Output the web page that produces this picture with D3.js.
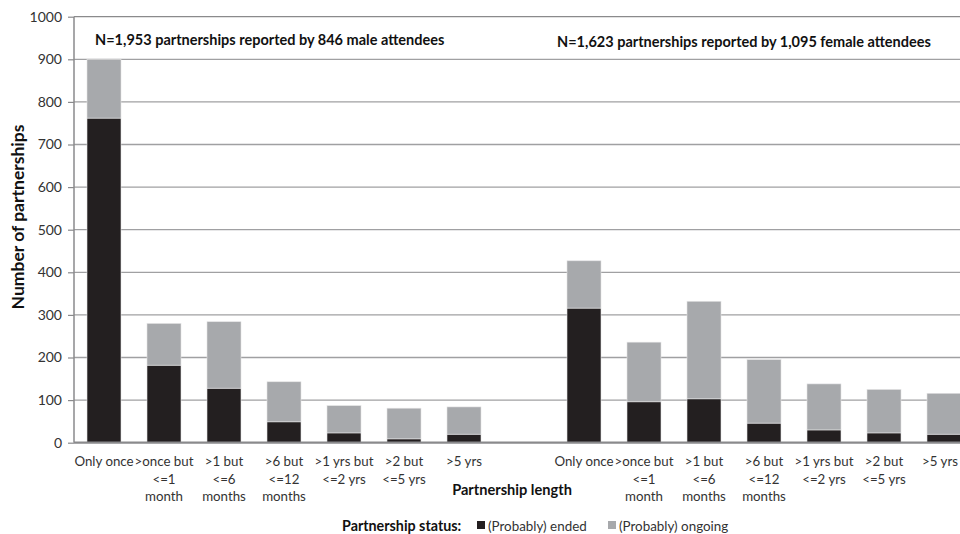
<!DOCTYPE html>
<html><head><meta charset="utf-8">
<script src="https://cdn.jsdelivr.net/npm/d3@7"></script>
<style>body{margin:0;background:#fff}svg{display:block;font-family:Lato,"Open Sans",sans-serif}</style>
</head><body><svg id="c" width="960" height="534"></svg>
<script>
const labels = ["Only once", ">once but|<=1|month", ">1 but|<=6|months", ">6 but|<=12|months", ">1 yrs but|<=2 yrs", ">2 but|<=5 yrs", ">5 yrs"];
const maleEnded   = [762, 182, 128, 49, 23, 9, 20];
const maleOngoing = [138, 98, 156, 94, 64, 72, 64];
const femaleEnded   = [316, 96, 103, 46, 30, 23, 20];
const femaleOngoing = [111, 140, 229, 149, 108, 102, 96];
const yTicks = [0,100,200,300,400,500,600,700,800,900,1000];
const maleNote = "N=1,953 partnerships reported by 846 male attendees";
const femaleNote = "N=1,623 partnerships reported by 1,095 female attendees";

const rows = [];
labels.forEach((l,i)=>rows.push({key:"m"+i, label:l, ended:maleEnded[i], ongoing:maleOngoing[i]}));
rows.push({key:"gap", label:"", ended:0, ongoing:0});
labels.forEach((l,i)=>rows.push({key:"f"+i, label:l, ended:femaleEnded[i], ongoing:femaleOngoing[i]}));

const svg = d3.select("#c");
const x = d3.scaleBand().domain(rows.map(d=>d.key)).range([74, 974]).paddingInner(26/60).paddingOuter(13/60);
const y = d3.scaleLinear().domain([0,1000]).range([442.7, 16.7]);

// gridlines
svg.append("g").selectAll("line").data(yTicks.filter(t=>t>0)).join("line")
  .attr("x1",74).attr("x2",960).attr("y1",d=>y(d)).attr("y2",d=>y(d))
  .attr("stroke",d=>d===1000?"#8a8a8c":"#a0a0a2").attr("stroke-width",1.3);

// bars
const stack = d3.stack().keys(["ended","ongoing"])(rows.filter(d=>d.key!=="gap"));
const colors = {ended:"#231f20", ongoing:"#a7a9ac"};
stack.forEach(layer=>{
  svg.append("g").selectAll("rect").data(layer).join("rect")
    .attr("x",d=>x(d.data.key)).attr("width",x.bandwidth())
    .attr("y",d=>y(d[1])).attr("height",d=>y(d[0])-y(d[1]))
    .attr("fill",colors[layer.key]).attr("stroke","#e4e4e5").attr("stroke-width",0.6);
});

// y axis
const yAxis = d3.axisLeft(y).tickValues(yTicks).tickFormat(d3.format("d")).tickSize(6).tickPadding(6);
const ga = svg.append("g").attr("transform","translate(74,0)").call(yAxis);
ga.select(".domain").attr("stroke","#8a8a8c").attr("stroke-width",1.5).attr("d","M0,16.7V442.7");
ga.selectAll(".tick line").attr("stroke","#8a8a8c").attr("stroke-width",1.2);
ga.selectAll(".tick text").attr("font-size",14).attr("fill","#333").attr("font-family","Lato");

// x axis baseline
const xAxis = d3.axisBottom(x).tickSize(0).tickFormat("");
const gx = svg.append("g").attr("transform","translate(0,442.7)").call(xAxis);
gx.select(".domain").attr("stroke","#8a8a8c").attr("stroke-width",2.2).attr("d","M74,0H960");

// x labels
const lg = svg.append("g");
rows.forEach(r=>{
  if(!r.label) return;
  let cx = x(r.key)+x.bandwidth()/2, anchor = "middle";
  if (cx + 20 > 960) { cx = 958; anchor = "end"; }
  const t = lg.append("text").attr("text-anchor",anchor).attr("font-size",13.3).attr("fill","#333");
  r.label.split("|").forEach((s,i)=>t.append("tspan").attr("x",cx).attr("y",466+i*17.5).text(s));
});

// titles
svg.append("text").attr("x",512).attr("y",495).attr("text-anchor","middle").attr("font-weight","bold")
  .attr("font-size",14.6).attr("fill","#111").text("Partnership length");
svg.append("text").attr("transform","translate(24,217) rotate(-90)").attr("text-anchor","middle")
  .attr("font-weight","bold").attr("font-size",17.5).attr("fill","#111").text("Number of partnerships");
svg.append("text").attr("x",95).attr("y",45).attr("font-weight","bold").attr("font-size",14.5).attr("fill","#111").text(maleNote);
svg.append("text").attr("x",557).attr("y",47).attr("font-weight","bold").attr("font-size",14.5).attr("fill","#111").text(femaleNote);

// legend
const leg = svg.append("g");
leg.append("text").attr("x",342).attr("y",531).attr("font-weight","bold").attr("font-size",14.3).attr("fill","#111").text("Partnership status:");
leg.append("rect").attr("x",477).attr("y",521).attr("width",8).attr("height",8).attr("fill",colors.ended);
leg.append("text").attr("x",488).attr("y",531).attr("font-size",13.4).attr("fill","#333").text("(Probably) ended");
leg.append("rect").attr("x",608).attr("y",521).attr("width",8).attr("height",8).attr("fill",colors.ongoing);
leg.append("text").attr("x",619).attr("y",531).attr("font-size",13.4).attr("fill","#333").text("(Probably) ongoing");
</script></body></html>
